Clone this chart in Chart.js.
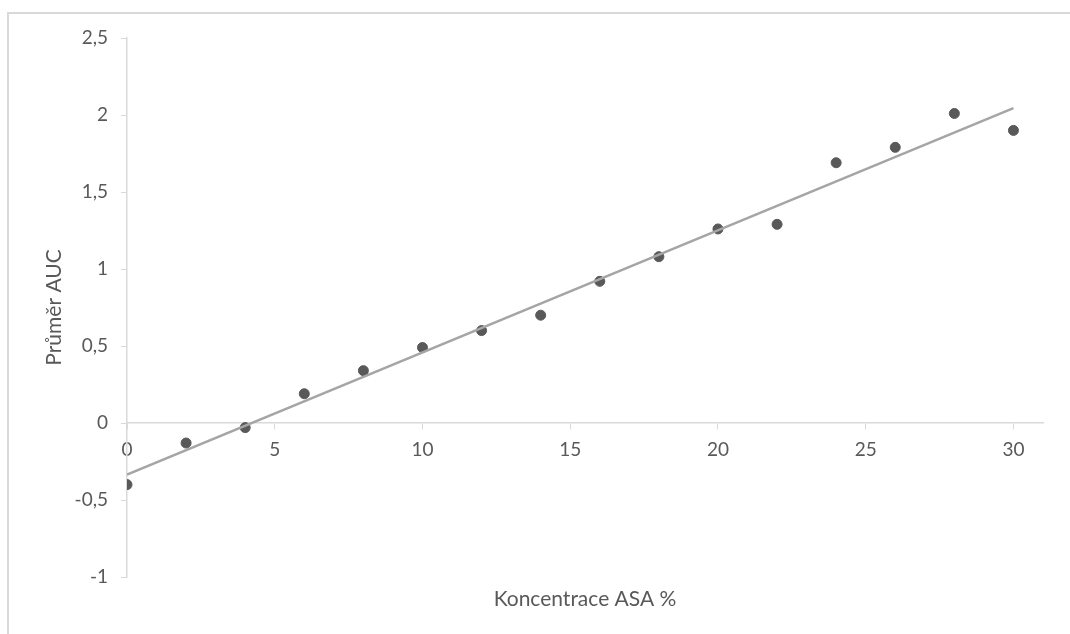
<!DOCTYPE html>
<html>
<head>
<meta charset="utf-8">
<script src="https://cdn.jsdelivr.net/npm/chart.js@4/dist/chart.umd.min.js"></script>
<style>
  html, body { margin: 0; padding: 0; background: #ffffff; overflow: hidden; }
  #wrap { position: relative; width: 1070px; height: 634px; }
  #frame { position: absolute; left: 7px; top: 12px; width: 1100px; height: 700px;
           border-left: 2px solid #d9d9d9; border-top: 2px solid #d9d9d9; box-sizing: border-box; }
  #chart { position: absolute; left: 0; top: 0; }
</style>
</head>
<body>
<div id="wrap">
  <div id="frame"></div>
  <canvas id="chart" width="1070" height="634"></canvas>
</div>
<script>
// Concentration of ASA (%) and mean AUC measured at each step
const concentrations = [0, 2, 4, 6, 8, 10, 12, 14, 16, 18, 20, 22, 24, 26, 28, 30];
const meanAUC = [-0.40, -0.13, -0.03, 0.19, 0.34, 0.49, 0.60, 0.70, 0.92, 1.08, 1.26, 1.29, 1.69, 1.79, 2.01, 1.90];

// Linear trendline end points
const trendX = [0, 30];
const trendY = [-0.335, 2.045];

// Axis tick values
const xTicks = [0, 5, 10, 15, 20, 25, 30];
const yTicks = [-1, -0.5, 0, 0.5, 1, 1.5, 2, 2.5];

const FONT = 'Lato, "Open Sans", "DejaVu Sans", sans-serif';
const TEXT = '#595959';
const AXIS = '#d9d9d9';

const points = concentrations.map((x, i) => ({ x: x, y: meanAUC[i] }));
const trend = trendX.map((x, i) => ({ x: x, y: trendY[i] }));

const fmt = v => String(Math.round(v * 10) / 10).replace('.', ',');

new Chart(document.getElementById('chart'), {
  type: 'scatter',
  data: {
    datasets: [
      {
        type: 'line',
        label: 'Trend',
        data: trend,
        borderColor: '#a5a5a5',
        borderWidth: 2.5,
        pointRadius: 0,
        fill: false,
        order: 0
      },
      {
        label: 'Průměr AUC',
        data: points,
        backgroundColor: '#595959',
        borderColor: '#595959',
        borderWidth: 1,
        pointRadius: 5,
        order: 1
      }
    ]
  },
  options: {
    responsive: false,
    animation: false,
    layout: { padding: { left: 0, top: 38, right: 27, bottom: 0 } },
    plugins: {
      legend: { display: false },
      tooltip: { enabled: false }
    },
    scales: {
      x: {
        type: 'linear',
        position: { y: 0 },
        min: 0,
        max: 31,
        afterBuildTicks: s => { s.ticks = xTicks.map(v => ({ value: v })); },
        grid: { display: true, drawOnChartArea: false, drawTicks: true, tickLength: 6, color: AXIS },
        border: { display: true, color: AXIS, width: 1.5 },
        ticks: { color: TEXT, font: { family: FONT, size: 19 }, padding: 9, maxRotation: 0,
                 callback: v => fmt(v) }
      },
      xT: {
        type: 'linear',
        axis: 'x',
        position: 'bottom',
        display: true,
        grid: { display: false },
        border: { display: false },
        ticks: { display: false },
        afterFit: s => { s.height = 57; },
        title: { display: true, text: 'Koncentrace ASA %', color: TEXT,
                 font: { family: FONT, size: 21 }, padding: { top: 0, bottom: 22 } }
      },
      y: {
        type: 'linear',
        position: 'left',
        min: -1,
        max: 2.5,
        afterBuildTicks: s => { s.ticks = yTicks.map(v => ({ value: v })); },
        afterFit: s => { s.width = 127; },
        grid: { display: true, drawOnChartArea: false, drawTicks: true, tickLength: 6, color: AXIS },
        border: { display: true, color: AXIS, width: 1.5 },
        ticks: { color: TEXT, font: { family: FONT, size: 19 }, padding: 13,
                 callback: v => fmt(v) },
        title: { display: true, text: 'Průměr AUC', color: TEXT,
                 font: { family: FONT, size: 21 }, padding: { top: 42, bottom: 0 } }
      }
    }
  }
});
</script>
</body>
</html>
